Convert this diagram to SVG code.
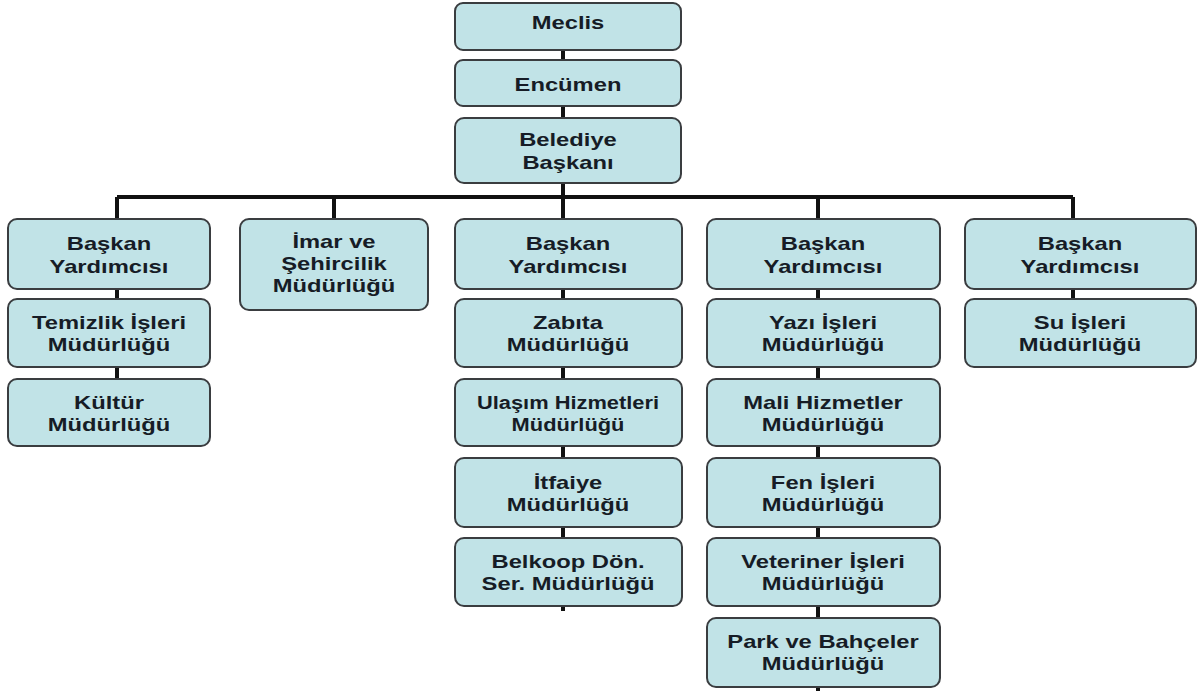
<svg xmlns="http://www.w3.org/2000/svg" width="1201" height="691" viewBox="0 0 1201 691">
<style>
.box{fill:#c1e3e7;stroke:#3a3d40;stroke-width:2}
.t{font-family:"Liberation Sans",Arial,sans-serif;font-weight:bold;font-size:19px;fill:#161c26;text-anchor:middle}
.c{stroke:#111;stroke-width:4;fill:none}
</style>
<rect width="1201" height="691" fill="#ffffff"/>
<g id="connectors">
<path class="c" d="M563 50V60M563 106V118M563 183V197M117 197H1073M117 197V219M334 197V219M563 197V219M818 197V219M1073 197V219"/>
<path class="c" d="M117 289V299M117 367V379"/>
<path class="c" d="M563 289V299M563 367V379M563 446V458M563 527V538M563 606V611"/>
<path class="c" d="M818 289V299M818 367V379M818 446V458M818 527V538M818 606V618M818 687V691"/>
<path class="c" d="M1073 289V299"/>
</g>
<g id="meclis"><rect class="box" x="455" y="3" width="226" height="47" rx="8"/><text class="t" transform="translate(568 29) scale(1.25 1)" x="0">Meclis</text></g>
<g id="encumen"><rect class="box" x="455" y="60" width="226" height="46" rx="8"/><text class="t" transform="translate(568 91) scale(1.25 1)" x="0">Encümen</text></g>
<g id="baskan"><rect class="box" x="455" y="118" width="226" height="65" rx="9"/><text class="t" transform="translate(568 146) scale(1.25 1)"><tspan x="0">Belediye</tspan><tspan x="0" dy="23">Başkanı</tspan></text></g>

<g id="by1"><rect class="box" x="8" y="219" width="202" height="70" rx="9"/><text class="t" transform="translate(109 250) scale(1.25 1)"><tspan x="0">Başkan</tspan><tspan x="0" dy="23">Yardımcısı</tspan></text></g>
<g id="temizlik"><rect class="box" x="8" y="299" width="202" height="68" rx="9"/><text class="t" transform="translate(109 329) scale(1.25 1)"><tspan x="0">Temizlik İşleri</tspan><tspan x="0" dy="22">Müdürlüğü</tspan></text></g>
<g id="kultur"><rect class="box" x="8" y="379" width="202" height="67" rx="9"/><text class="t" transform="translate(109 409) scale(1.25 1)"><tspan x="0">Kültür</tspan><tspan x="0" dy="22">Müdürlüğü</tspan></text></g>

<g id="imar"><rect class="box" x="240" y="219" width="188" height="91" rx="9"/><text class="t" transform="translate(334 248) scale(1.25 1)"><tspan x="0">İmar ve</tspan><tspan x="0" dy="22">Şehircilik</tspan><tspan x="0" dy="22">Müdürlüğü</tspan></text></g>

<g id="by2"><rect class="box" x="455" y="219" width="227" height="70" rx="9"/><text class="t" transform="translate(568 250) scale(1.25 1)"><tspan x="0">Başkan</tspan><tspan x="0" dy="23">Yardımcısı</tspan></text></g>
<g id="zabita"><rect class="box" x="455" y="299" width="227" height="68" rx="9"/><text class="t" transform="translate(568 329) scale(1.25 1)"><tspan x="0">Zabıta</tspan><tspan x="0" dy="22">Müdürlüğü</tspan></text></g>
<g id="ulasim"><rect class="box" x="455" y="379" width="227" height="67" rx="9"/><text class="t" transform="translate(568 409) scale(1.15 1)"><tspan x="0">Ulaşım Hizmetleri</tspan><tspan x="0" dy="22">Müdürlüğü</tspan></text></g>
<g id="itfaiye"><rect class="box" x="455" y="458" width="227" height="69" rx="9"/><text class="t" transform="translate(568 489) scale(1.25 1)"><tspan x="0">İtfaiye</tspan><tspan x="0" dy="22">Müdürlüğü</tspan></text></g>
<g id="belkoop"><rect class="box" x="455" y="538" width="227" height="68" rx="9"/><text class="t" transform="translate(568 568) scale(1.25 1)"><tspan x="0">Belkoop Dön.</tspan><tspan x="0" dy="22">Ser. Müdürlüğü</tspan></text></g>

<g id="by3"><rect class="box" x="707" y="219" width="233" height="70" rx="9"/><text class="t" transform="translate(823 250) scale(1.25 1)"><tspan x="0">Başkan</tspan><tspan x="0" dy="23">Yardımcısı</tspan></text></g>
<g id="yazi"><rect class="box" x="707" y="299" width="233" height="68" rx="9"/><text class="t" transform="translate(823 329) scale(1.25 1)"><tspan x="0">Yazı İşleri</tspan><tspan x="0" dy="22">Müdürlüğü</tspan></text></g>
<g id="mali"><rect class="box" x="707" y="379" width="233" height="67" rx="9"/><text class="t" transform="translate(823 409) scale(1.25 1)"><tspan x="0">Mali Hizmetler</tspan><tspan x="0" dy="22">Müdürlüğü</tspan></text></g>
<g id="fen"><rect class="box" x="707" y="458" width="233" height="69" rx="9"/><text class="t" transform="translate(823 489) scale(1.25 1)"><tspan x="0">Fen İşleri</tspan><tspan x="0" dy="22">Müdürlüğü</tspan></text></g>
<g id="veteriner"><rect class="box" x="707" y="538" width="233" height="68" rx="9"/><text class="t" transform="translate(823 568) scale(1.25 1)"><tspan x="0">Veteriner İşleri</tspan><tspan x="0" dy="22">Müdürlüğü</tspan></text></g>
<g id="park"><rect class="box" x="707" y="618" width="233" height="69" rx="9"/><text class="t" transform="translate(823 648) scale(1.25 1)"><tspan x="0">Park ve Bahçeler</tspan><tspan x="0" dy="22">Müdürlüğü</tspan></text></g>

<g id="by4"><rect class="box" x="965" y="219" width="231" height="70" rx="9"/><text class="t" transform="translate(1080 250) scale(1.25 1)"><tspan x="0">Başkan</tspan><tspan x="0" dy="23">Yardımcısı</tspan></text></g>
<g id="su"><rect class="box" x="965" y="299" width="231" height="68" rx="9"/><text class="t" transform="translate(1080 329) scale(1.25 1)"><tspan x="0">Su İşleri</tspan><tspan x="0" dy="22">Müdürlüğü</tspan></text></g>
</svg>
